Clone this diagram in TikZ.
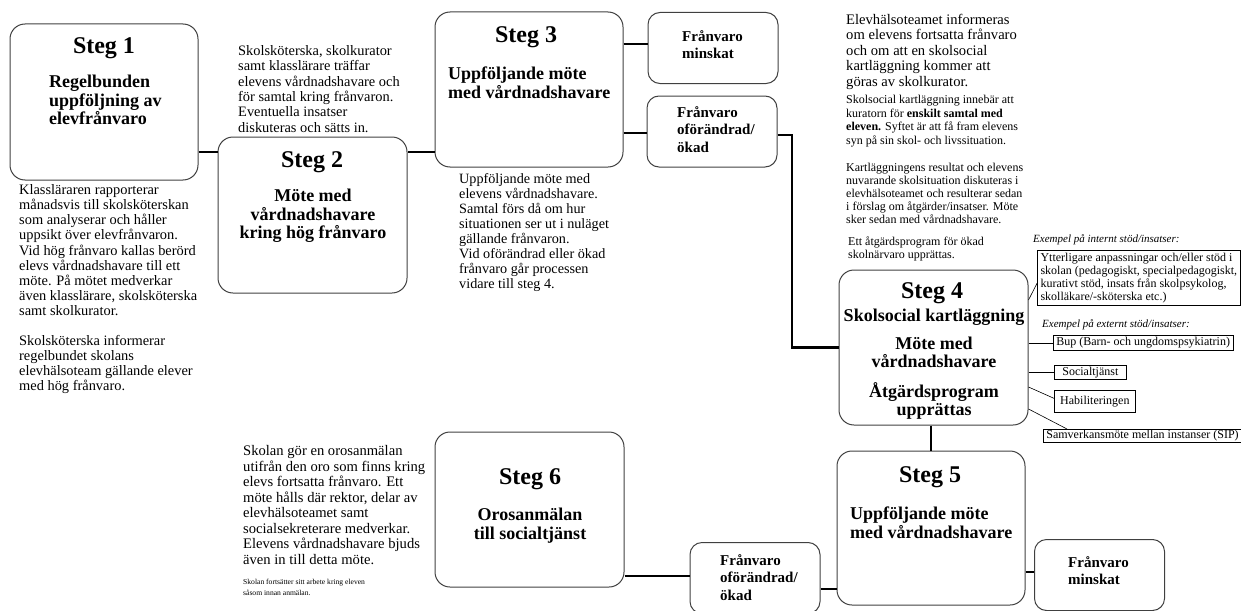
\documentclass[tikz,border=0pt]{standalone}
\usepackage{fontspec}
\setmainfont{Liberation Serif}
\usetikzlibrary{calc}

\tikzset{
	stegbox/.style={draw=black!75, line width=1pt, rounded corners=15pt},
	utfallbox/.style={draw=black!75, line width=1pt, rounded corners=12pt, minimum width=130, minimum height=71},
	steg/.style={anchor=base, inner sep=0pt, font=\fontsize{24}{28}\selectfont\bfseries},
	rubrik/.style={inner sep=0pt, font=\fontsize{18}{18.5}\selectfont\bfseries},
	utfall/.style={anchor=north west, align=left, inner sep=0pt, font=\fontsize{15}{17.5}\selectfont\bfseries},
	brodtext/.style={anchor=north west, align=left, inner sep=0pt, font=\fontsize{14.4}{15.3}\selectfont},
	smatext/.style={anchor=north west, align=left, inner sep=0pt, font=\fontsize{12}{13.5}\selectfont},
	exempel/.style={anchor=north west, inner sep=0pt, font=\fontsize{11}{12}\selectfont\itshape},
	stod/.style={draw, line width=0.7pt, anchor=north west, align=left, inner xsep=3pt, inner ysep=0.5pt, font=\fontsize{12}{13}\selectfont},
	flode/.style={line width=2.5pt},
	tunn/.style={line width=0.6pt}
}

\begin{document}
\begin{tikzpicture}[x=1pt,y=-1pt]
	\useasboundingbox (0,0) rectangle (1241,610);

	% steg
	\node[stegbox, minimum width=188, minimum height=156] (s1) at (104,102) {};
	\node[stegbox, minimum width=189, minimum height=156] (s2) at (312.5,215) {};
	\node[stegbox, minimum width=188, minimum height=155] (s3) at (529,89.5) {};
	\node[stegbox, minimum width=189, minimum height=155] (s4) at (933.5,347.5) {};
	\node[stegbox, minimum width=188, minimum height=154] (s5) at (931,528) {};
	\node[stegbox, minimum width=189, minimum height=155] (s6) at (529.5,509.5) {};

	\node[utfallbox] (m1) at (713,48) {};
	\node[utfallbox] (o1) at (712,131.5) {};
	\node[utfallbox] (o2) at (755,578) {};
	\node[utfallbox] (m2) at (1099.5,575) {};

	\node[steg] (t1) at (104,53) {Steg 1};
	\node[steg] (t2) at (312,167) {Steg 2};
	\node[steg] (t3) at (526,43) {Steg 3};
	\node[steg] (t4) at (932,298) {Steg 4};
	\node[steg] (t5) at (930,482) {Steg 5};
	\node[steg] (t6) at (530,484) {Steg 6};

	\node[rubrik, anchor=north west, align=left] (r1) at (49,75) {Regelbunden\\uppföljning av\\elevfrånvaro};
	\node[rubrik, anchor=north, align=center] (r2) at (313,189) {Möte med\\vårdnadshavare\\kring hög frånvaro};
	\node[rubrik, anchor=north west, align=left] (r3) at (448,67) {Uppföljande möte\\med vårdnadshavare};
	\node[rubrik, anchor=north, align=center] (r4) at (934,309) {Skolsocial kartläggning\\[9pt]Möte med\\vårdnadshavare\\[11pt]Åtgärdsprogram\\upprättas};
	\node[rubrik, anchor=north west, align=left] (r5) at (850,507) {Uppföljande möte\\med vårdnadshavare};
	\node[rubrik, anchor=north, align=center] (r6) at (530,508) {Orosanmälan\\till socialtjänst};

	\node[utfall] (u1) at (682,30) {Frånvaro\\minskat};
	\node[utfall] (u2) at (677,106) {Frånvaro\\oförändrad/\\ökad};
	\node[utfall] (u3) at (720,554) {Frånvaro\\oförändrad/\\ökad};
	\node[utfall] (u4) at (1068,556) {Frånvaro\\minskat};

	% texter
	\node[brodtext] (b1) at (238,45.5) {Skolsköterska, skolkurator\\samt klasslärare träffar\\elevens vårdnadshavare och\\för samtal kring frånvaron.\\Eventuella insatser\\diskuteras och sätts in.};
	\node[brodtext, font=\fontsize{14.4}{15.1}\selectfont] (b2) at (19,184.5) {Klassläraren rapporterar\\månadsvis till skolsköterskan\\som analyserar och håller\\uppsikt över elevfrånvaron.\\Vid hög frånvaro kallas berörd\\elevs vårdnadshavare till ett\\möte. På mötet medverkar\\även klasslärare, skolsköterska\\samt skolkurator.\\[15.1pt]Skolsköterska informerar\\regelbundet skolans\\elevhälsoteam gällande elever\\med hög frånvaro.};
	\node[brodtext, font=\fontsize{14.2}{14.9}\selectfont] (b3) at (459,173.5) {Uppföljande möte med\\elevens vårdnadshavare.\\Samtal förs då om hur\\situationen ser ut i nuläget\\gällande frånvaron.\\Vid oförändrad eller ökad\\frånvaro går processen\\vidare till steg 4.};
	\node[brodtext, font=\fontsize{14.6}{15.5}\selectfont] (b4) at (846,14) {Elevhälsoteamet informeras\\om elevens fortsatta frånvaro\\och om att en skolsocial\\kartläggning kommer att\\göras av skolkurator.};
	\node[smatext, font=\fontsize{12}{13.7}\selectfont] (b5) at (846,95) {Skolsocial kartläggning innebär att\\kuratorn för \textbf{enskilt samtal med}\\\textbf{eleven.} Syftet är att få fram elevens\\syn på sin skol- och livssituation.};
	\node[smatext, font=\fontsize{12}{13.2}\selectfont] (b6) at (846,162.5) {Kartläggningens resultat och elevens\\nuvarande skolsituation diskuteras i\\elevhälsoteamet och resulterar sedan\\i förslag om åtgärder/insatser. Möte\\sker sedan med vårdnadshavare.};
	\node[smatext] (b7) at (848,236.5) {Ett åtgärdsprogram för ökad\\skolnärvaro upprättas.};
	\node[brodtext, font=\fontsize{14.6}{15.5}\selectfont] (b8) at (243,445.5) {Skolan gör en orosanmälan\\utifrån den oro som finns kring\\elevs fortsatta frånvaro. Ett\\möte hålls där rektor, delar av\\elevhälsoteamet samt\\socialsekreterare medverkar.\\Elevens vårdnadshavare bjuds\\även in till detta möte.};
	\node[smatext, font=\fontsize{7.6}{11}\selectfont] (b9) at (243,579) {Skolan fortsätter sitt arbete kring eleven\\såsom innan anmälan.};

	\node[exempel] (e1) at (1033,234) {Exempel på internt stöd/insatser:};
	\node[exempel] (e2) at (1042,319) {Exempel på externt stöd/insatser:};

	% stöd och insatser
	\node[stod, minimum width=203, minimum height=55] (int) at (1037,250) {Ytterligare anpassningar och/eller stöd i\\skolan (pedagogiskt, specialpedagogiskt,\\kurativt stöd, insats från skolpsykolog,\\skolläkare/-sköterska etc.)};
	\node[stod, minimum width=179, minimum height=15] (bup) at (1053,335) {Bup (Barn- och ungdomspsykiatrin)};
	\node[stod, minimum width=72, minimum height=14] (soc) at (1054,365) {Socialtjänst};
	\node[stod, minimum width=81, minimum height=22] (hab) at (1054,390) {Habiliteringen};
	\node[stod, minimum width=194, minimum height=13] (sip) at (1043,429) {Samverkansmöte mellan instanser (SIP)};

	% flöde
	\coordinate (k12) at (208,152);
	\coordinate (k23) at (420,152);
	\coordinate (k3m) at (635,44);
	\coordinate (k3o) at (635,133);
	\coordinate (ko4) at (792,135);
	\coordinate (k5m) at (1030,572);
	\coordinate (k5o) at (828,589);
	\coordinate (k6o) at (657,576);

	\draw[flode] (s1.east |- k12) -- (s2.west |- k12);
	\draw[flode] (s2.east |- k23) -- (s3.west |- k23);
	\draw[flode] (s3.east |- k3m) -- (m1.west |- k3m);
	\draw[flode] (s3.east |- k3o) -- (o1.west |- k3o);
	\draw[flode] (o1.east |- ko4) -- (ko4) |- (s4.west);
	\draw[flode] (s4.south -| s5.north) -- (s5.north);
	\draw[flode] (s5.east |- k5m) -- (m2.west |- k5m);
	\draw[flode] (s5.west |- k5o) -- (o2.east |- k5o);
	\draw[flode] (s6.east |- k6o) -- (o2.west |- k6o);

	\draw[tunn] ($(s4.east)+(0,-47.5)$) -- ($(int.west)+(0,5.5)$);
	\draw[tunn] (s4.east |- bup.west) -- (bup.west);
	\draw[tunn] (s4.east |- soc.west) -- (soc.west);
	\draw[tunn] ($(s4.east)+(0,39.5)$) -- ($(hab.west)+(0,-3)$);
	\draw[tunn] ($(s4.east)+(0,61.5)$) -- ($(sip.north west)+(24,0)$);
\end{tikzpicture}
\end{document}
